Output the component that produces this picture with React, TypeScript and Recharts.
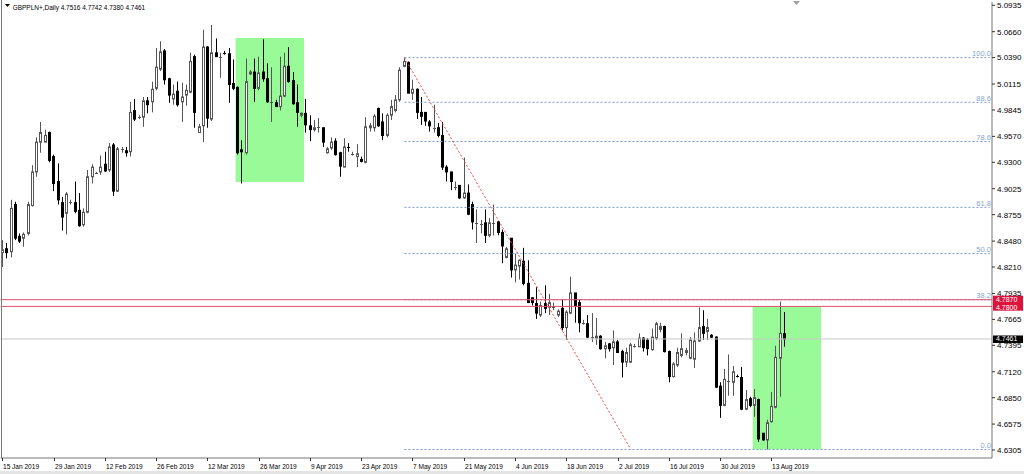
import React from 'react';
import { ComposedChart, Bar, XAxis, YAxis, ReferenceLine, ReferenceArea } from 'recharts';

// GBPPLN+ daily candles, 15 Jan 2019 .. 16 Aug 2019 (6 bars a week, broker has Sunday bars)
const opens = [
  4.836, 4.840, 4.837, 4.886, 4.853, 4.851, 4.856, 4.885, 4.920, 4.951,
  4.951, 4.961, 4.936, 4.910, 4.888, 4.877, 4.888, 4.888, 4.880, 4.865,
  4.878, 4.915, 4.919, 4.920, 4.928, 4.922, 4.948, 4.900, 4.944, 4.942,
  4.941, 4.984, 4.977, 4.977, 4.994, 4.993, 5.007, 5.027, 5.046, 5.017,
  4.996, 5.004, 4.993, 5.000, 5.003, 5.040, 4.961, 4.968, 5.050, 4.975,
  5.044, 5.040, 5.044, 5.043, 5.012, 5.008, 4.943, 4.940, 5.022, 5.024,
  5.007, 5.024, 5.017, 4.993, 4.992, 4.988, 4.999, 5.030, 5.015, 4.992,
  4.979, 4.981, 4.968, 4.964, 4.967, 4.966, 4.940, 4.945, 4.952, 4.940,
  4.925, 4.946, 4.939, 4.936, 4.933, 4.930, 4.966, 4.966, 4.986, 4.972,
  4.958, 4.979, 4.984, 4.995, 5.030, 5.034, 5.002, 5.006, 4.982, 4.982,
  4.972, 4.966, 4.966, 4.958, 4.925, 4.920, 4.904, 4.906, 4.893, 4.898,
  4.886, 4.867, 4.866, 4.867, 4.854, 4.867, 4.868, 4.857, 4.831, 4.851,
  4.818, 4.822, 4.827, 4.804, 4.789, 4.783, 4.771, 4.783, 4.779, 4.779,
  4.771, 4.778, 4.758, 4.773, 4.794, 4.784, 4.763, 4.762, 4.748, 4.747,
  4.749, 4.736, 4.741, 4.737, 4.743, 4.733, 4.722, 4.722, 4.739, 4.738,
  4.747, 4.745, 4.735, 4.747, 4.756, 4.759, 4.733, 4.707, 4.719, 4.729,
  4.732, 4.726, 4.725, 4.744, 4.759, 4.754, 4.750, 4.748, 4.697, 4.677,
  4.702, 4.701, 4.708, 4.706, 4.673, 4.684, 4.677, 4.683, 4.648, 4.641,
  4.660, 4.675, 4.726, 4.7516,
];
const highs = [
  4.849, 4.846, 4.891, 4.889, 4.856, 4.857, 4.889, 4.927, 4.956, 4.972,
  4.964, 4.962, 4.938, 4.929, 4.894, 4.899, 4.891, 4.910, 4.898, 4.882,
  4.922, 4.928, 4.920, 4.937, 4.941, 4.950, 4.950, 4.946, 4.946, 4.946,
  4.993, 4.996, 4.979, 4.998, 4.998, 5.014, 5.049, 5.056, 5.048, 5.018,
  5.011, 5.014, 5.013, 5.011, 5.044, 5.042, 4.970, 5.068, 5.051, 5.073,
  5.059, 5.044, 5.046, 5.049, 5.037, 5.009, 4.953, 5.038, 5.026, 5.038,
  5.040, 5.058, 5.033, 5.029, 4.995, 5.040, 5.044, 5.050, 5.024, 5.011,
  4.982, 4.996, 4.979, 4.974, 4.976, 4.966, 4.946, 4.956, 4.955, 4.941,
  4.955, 4.950, 4.941, 4.949, 4.936, 4.977, 4.971, 4.980, 4.987, 4.981,
  4.981, 4.995, 5.000, 5.029, 5.039, 5.035, 5.016, 5.007, 4.998, 4.982,
  4.974, 4.990, 4.971, 4.972, 4.927, 4.920, 4.910, 4.906, 4.935, 4.907,
  4.889, 4.881, 4.870, 4.881, 4.872, 4.886, 4.869, 4.860, 4.842, 4.851,
  4.835, 4.829, 4.841, 4.828, 4.789, 4.800, 4.785, 4.802, 4.793, 4.784,
  4.777, 4.787, 4.776, 4.811, 4.794, 4.787, 4.766, 4.771, 4.773, 4.768,
  4.750, 4.743, 4.742, 4.755, 4.745, 4.735, 4.737, 4.742, 4.741, 4.752,
  4.748, 4.747, 4.757, 4.764, 4.763, 4.760, 4.734, 4.722, 4.737, 4.752,
  4.737, 4.748, 4.753, 4.779, 4.776, 4.767, 4.751, 4.749, 4.701, 4.715,
  4.730, 4.718, 4.709, 4.717, 4.693, 4.686, 4.694, 4.684, 4.648, 4.662,
  4.691, 4.739, 4.785, 4.7742,
];
const lows = [
  4.821, 4.830, 4.831, 4.849, 4.846, 4.842, 4.854, 4.884, 4.915, 4.940,
  4.951, 4.930, 4.900, 4.886, 4.859, 4.855, 4.886, 4.877, 4.863, 4.863,
  4.877, 4.908, 4.918, 4.917, 4.920, 4.920, 4.895, 4.899, 4.940, 4.936,
  4.936, 4.973, 4.975, 4.967, 4.981, 4.982, 5.005, 5.025, 5.011, 4.992,
  4.990, 4.988, 4.972, 4.989, 5.002, 4.966, 4.961, 4.951, 4.966, 4.973,
  5.040, 5.018, 5.042, 4.992, 5.005, 4.938, 4.908, 4.938, 5.021, 4.993,
  5.005, 5.014, 4.992, 4.972, 4.988, 4.984, 4.998, 5.013, 4.990, 4.967,
  4.977, 4.961, 4.952, 4.962, 4.961, 4.946, 4.939, 4.943, 4.937, 4.915,
  4.925, 4.941, 4.937, 4.925, 4.930, 4.929, 4.962, 4.962, 4.967, 4.953,
  4.956, 4.974, 4.982, 4.993, 5.029, 5.002, 4.995, 4.975, 4.969, 4.968,
  4.962, 4.961, 4.956, 4.922, 4.910, 4.901, 4.901, 4.892, 4.892, 4.875,
  4.860, 4.846, 4.856, 4.846, 4.852, 4.854, 4.854, 4.825, 4.830, 4.810,
  4.805, 4.808, 4.802, 4.784, 4.781, 4.767, 4.769, 4.773, 4.771, 4.776,
  4.769, 4.755, 4.745, 4.772, 4.763, 4.753, 4.761, 4.747, 4.743, 4.740,
  4.735, 4.726, 4.733, 4.719, 4.732, 4.706, 4.717, 4.721, 4.737, 4.738,
  4.733, 4.729, 4.734, 4.745, 4.753, 4.732, 4.701, 4.706, 4.717, 4.727,
  4.729, 4.725, 4.716, 4.743, 4.745, 4.745, 4.747, 4.695, 4.664, 4.676,
  4.687, 4.687, 4.706, 4.672, 4.672, 4.675, 4.665, 4.639, 4.640, 4.631,
  4.659, 4.674, 4.686, 4.7380,
];
const closes = [
  4.839, 4.836, 4.882, 4.851, 4.848, 4.855, 4.886, 4.920, 4.951, 4.961,
  4.958, 4.932, 4.908, 4.891, 4.873, 4.897, 4.889, 4.879, 4.864, 4.878,
  4.915, 4.925, 4.919, 4.925, 4.921, 4.946, 4.900, 4.944, 4.944, 4.940,
  4.982, 4.975, 4.977, 4.994, 4.990, 5.006, 5.029, 5.045, 5.016, 5.000,
  5.001, 4.990, 4.998, 5.005, 5.035, 4.982, 4.967, 5.050, 4.976, 5.044,
  5.040, 5.040, 5.043, 5.011, 5.007, 4.940, 4.941, 5.014, 5.024, 5.007,
  5.023, 5.017, 4.993, 4.993, 4.988, 4.999, 5.030, 5.014, 4.991, 4.982,
  4.981, 4.969, 4.964, 4.966, 4.967, 4.951, 4.944, 4.951, 4.938, 4.926,
  4.946, 4.945, 4.939, 4.939, 4.931, 4.967, 4.968, 4.978, 4.968, 4.958,
  4.979, 4.988, 4.995, 5.026, 5.035, 5.002, 5.006, 4.982, 4.978, 4.973,
  4.968, 4.966, 4.958, 4.925, 4.920, 4.910, 4.904, 4.893, 4.898, 4.876,
  4.868, 4.867, 4.866, 4.854, 4.867, 4.867, 4.857, 4.843, 4.840, 4.818,
  4.823, 4.828, 4.804, 4.784, 4.784, 4.773, 4.781, 4.778, 4.784, 4.779,
  4.775, 4.758, 4.774, 4.794, 4.781, 4.763, 4.763, 4.748, 4.748, 4.749,
  4.736, 4.739, 4.736, 4.743, 4.732, 4.722, 4.732, 4.740, 4.739, 4.747,
  4.737, 4.736, 4.748, 4.762, 4.759, 4.733, 4.707, 4.720, 4.732, 4.736,
  4.734, 4.745, 4.744, 4.758, 4.752, 4.758, 4.748, 4.696, 4.677, 4.704,
  4.702, 4.712, 4.707, 4.673, 4.683, 4.677, 4.685, 4.642, 4.641, 4.659,
  4.676, 4.727, 4.752, 4.7461,
];

// one date label every 12 bars, starting at bar 0
const dateLabels = [
  '15 Jan 2019', '29 Jan 2019', '12 Feb 2019', '26 Feb 2019', '12 Mar 2019', '26 Mar 2019',
  '9 Apr 2019', '23 Apr 2019', '7 May 2019', '21 May 2019', '4 Jun 2019', '18 Jun 2019',
  '2 Jul 2019', '16 Jul 2019', '30 Jul 2019', '13 Aug 2019',
];
const priceTicks = [
  5.0935, 5.066, 5.039, 5.0115, 4.9845, 4.957, 4.93, 4.9025, 4.8755,
  4.848, 4.821, 4.7935, 4.7665, 4.7395, 4.712, 4.685, 4.6575, 4.6305,
];

// fibonacci retracement drawn from the May high
const fibLabels = ['100.0', '88.6', '78.6', '61.8', '50.0', '38.2', '0.0'];
const fibPrices = [5.039, 4.9925, 4.9517, 4.8831, 4.835, 4.7869, 4.631];
const fibStartBar = 94;
const trendFrom = { bar: 94, price: 5.039 };
const trendTo = { bar: 147, price: 4.631 };

const redLevels = [4.787, 4.78];
const lastPrice = 4.7461;
const greenBoxes = [
  { from: 55, to: 70, low: 4.9095, high: 5.0595 },
  { from: 176, to: 191, low: 4.631, high: 4.78 },
];
const title = 'GBPPLN+,Daily  4.7516 4.7742 4.7380 4.7461';

const EMPTY_BARS = 48; // chart shift on the right
const FONT = '"Liberation Sans", Arial, sans-serif';
const PLOT_BOTTOM = 458;

const data = Array.from({ length: opens.length + EMPTY_BARS }, (_, i) =>
  i < opens.length ? { i, o: opens[i], h: highs[i], l: lows[i], c: closes[i] } : { i }
);

const Candle = (props: any) => {
  const { x, y, width, height, payload } = props;
  if (!payload || payload.o == null) return null;
  const top = Math.min(y, y + height);
  const bot = Math.max(y, y + height);
  const k = (bot - top) / (payload.h - payload.l || 1);
  const yO = top + (payload.h - payload.o) * k;
  const yC = top + (payload.h - payload.c) * k;
  const cx = Math.round(x + width / 2 - 0.5);
  const up = payload.c >= payload.o;
  const col = up ? '#555' : '#000';
  const bTop = Math.min(yO, yC);
  const bBot = Math.max(yO, yC);
  return (
    <g>
      <line x1={cx + 0.5} x2={cx + 0.5} y1={top} y2={bot} stroke={col} strokeWidth={1} />
      {bBot - bTop < 1.2 ? (
        <line x1={cx - 1} x2={cx + 2} y1={Math.round(bTop) + 0.5} y2={Math.round(bTop) + 0.5} stroke={col} />
      ) : (
        <rect x={cx - 0.5} y={bTop} width={2} height={bBot - bTop} fill={up ? '#fff' : '#000'} stroke={col} strokeWidth={1} />
      )}
    </g>
  );
};

const DateTick = (props: any) => {
  const { x, payload } = props;
  const v = Number(payload?.value);
  if (v % 12 !== 0 || v / 12 >= dateLabels.length) return null;
  const tx = Math.round(x - 0.5) + 0.5;
  return (
    <g>
      <line x1={tx} x2={tx} y1={PLOT_BOTTOM} y2={PLOT_BOTTOM + 3} stroke="#333" />
      <text transform={`translate(${tx + 0.5},${PLOT_BOTTOM + 11}) scale(0.82,1)`} fontSize={8} fill="#000" fontFamily={FONT}>
        {dateLabels[v / 12]}
      </text>
    </g>
  );
};

// price tag drawn on the price scale; dy shifts the text inside a shared box
const priceTag = (text: string, bg: string, boxTop: number, boxH: number, dy: number) => (props: any) => {
  const vb = props.viewBox || {};
  const x = (vb.x ?? 0) + (vb.width ?? 0) + 1;
  const y = vb.y ?? 0;
  return (
    <g>
      <rect x={x} y={y + boxTop} width={30} height={boxH} fill={bg} />
      <text x={x + 3} y={y + dy} dy="0.33em" fontSize={7} fill="#fff" fontFamily={FONT}>{text}</text>
    </g>
  );
};

const fibTag = (text: string) => (props: any) => {
  const vb = props.viewBox || {};
  const xr = (vb.x ?? 0) + (vb.width ?? 0);
  return (
    <text x={xr + 1} y={(vb.y ?? 0) - 1.5} textAnchor="end" fontSize={7.5} fill="#86a6cf" fontFamily={FONT}>
      {text}
    </text>
  );
};

export default function App() {
  return (
    <div style={{ position: 'fixed', left: 0, top: 0, width: 1024, height: 474, background: '#fff' }}>
      <ComposedChart
        width={1024}
        height={474}
        data={data}
        margin={{ top: 2, right: 0, bottom: 0, left: 0.6 }}
        style={{ fontFamily: FONT }}
      >
        {greenBoxes.map((b, k) => (
          <ReferenceArea key={'g' + k} x1={b.from} x2={b.to} y1={b.low} y2={b.high} fill="#98fb98" fillOpacity={1} stroke="none" ifOverflow="visible" />
        ))}
        <XAxis
          dataKey="i"
          type="category"
          interval={0}
          tickLine={false}
          axisLine={{ stroke: '#777' }}
          tick={<DateTick />}
          height={16}
        />
        <YAxis
          orientation="right"
          type="number"
          domain={[4.6222, 5.0969]}
          allowDataOverflow
          ticks={priceTicks}
          interval={0}
          tickFormatter={(v: number) => v.toFixed(4)}
          width={32}
          tickSize={3}
          tickMargin={2}
          axisLine={{ stroke: '#777' }}
          tickLine={{ stroke: '#333' }}
          tick={{ fontSize: 8, fill: '#000', fontFamily: FONT }}
        />
        <ReferenceLine y={lastPrice} stroke="#c8c8c8" strokeWidth={1} label={priceTag(lastPrice.toFixed(4), '#000', -3.5, 7.5, -0.6)} />
        {fibPrices.map((p, k) => (
          <ReferenceLine
            key={'f' + k}
            segment={[{ x: fibStartBar, y: p }, { x: data.length - 1, y: p }]}
            stroke="#7b9dcb"
            strokeDasharray="2 2"
            label={fibTag(fibLabels[k])}
          />
        ))}
        <ReferenceLine
          segment={[{ x: trendFrom.bar, y: trendFrom.price }, { x: trendTo.bar, y: trendTo.price }]}
          stroke="#f04848"
          strokeDasharray="2 2"
        />
        <Bar dataKey={(d: any) => (d.o == null ? null : [d.l, d.h])} shape={<Candle />} isAnimationActive={false} />
        <ReferenceLine y={redLevels[0]} stroke="#e0506c" strokeWidth={1} label={priceTag(redLevels[0].toFixed(4), '#dc143c', -4, 15, 0.4)} />
        <ReferenceLine y={redLevels[1]} stroke="#e0506c" strokeWidth={1} label={priceTag(redLevels[1].toFixed(4), '#dc143c', 0, 0, 1.6)} />
      </ComposedChart>
      <svg width={1024} height={474} style={{ position: 'absolute', left: 0, top: 0, pointerEvents: 'none' }}>
        <line x1={1.5} x2={1.5} y1={0} y2={PLOT_BOTTOM} stroke="#777" />
        <rect x={0} y={471} width={1024} height={3} fill="#e4e4e4" />
        <polygon points="5,4 10,4 7.5,7" fill="#000" />
        <text transform="translate(12.7,9.5) scale(0.81,1)" fontSize={8} fill="#000" fontFamily={FONT}>
          {title}
        </text>
        <polygon points="793,1 800,1 796.5,5" fill="#a0a0a0" />
      </svg>
    </div>
  );
}
